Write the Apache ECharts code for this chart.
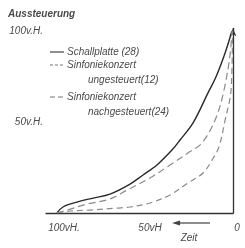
<!DOCTYPE html>
<html><head><meta charset="utf-8">
<script src="https://cdn.jsdelivr.net/npm/echarts@6/dist/echarts.min.js"></script>
<style>html,body{margin:0;padding:0;background:#fff}#c{width:245px;height:248px}</style>
</head><body><div id="c"></div>
<script>
// Data (x = Zeit in vH, 100 left -> 0 right; y = Aussteuerung in vH)
const seriesNames = ['Schallplatte (28)', 'Sinfoniekonzert\nungesteuert(12)', 'Sinfoniekonzert\nnachgesteuert(24)'];
const schallTime  = [100, 96.6, 88.6, 79.5, 69.9, 58.5, 51.1, 43.2, 34.7, 30.1, 22.7, 14.2, 9.7, 4.5, 0.6];
const schallLevel = [0, 3.3, 6.0, 8.2, 10.4, 15.9, 20.9, 26.4, 34.6, 40.1, 49.5, 66, 74.7, 87.9, 100];
const ungesTime   = [100, 92.6, 81.3, 65.9, 58.5, 47.2, 35.8, 25.6, 17, 11.9, 8, 4.5, 1.1, 0.3];
const ungesLevel  = [0, 1.1, 1.6, 2.7, 3.3, 5.5, 9.9, 16.5, 22, 29.1, 36.3, 51, 67.6, 100];
const nachTime    = [100, 94.3, 83, 69.9, 60.2, 47.2, 35.8, 25.6, 17.6, 9.7, 5.1, 1.7, 0.6];
const nachLevel   = [0, 1.6, 4.9, 7.7, 12.6, 19.2, 26.4, 33, 38.5, 52.2, 67.6, 86.8, 100];
const xTickValues = [100, 50, 0];
const xTickLabels = ['100vH.', '50vH', '0'];
const yTickValues = [100, 50];
const yTickLabels = ['100v.H.', '50v.H.'];
const yAxisTitle = 'Aussteuerung';
const xAxisTitle = 'Zeit';

const zip = (a, b) => a.map((v, i) => [v, b[i]]);
const FONT = 'Liberation Sans';
const TXT = '#4a4a4a';
const lineDefs = [
  {color: '#2a2a2a', width: 1.4, type: 'solid', legendDash: null},
  {color: '#8a8a8a', width: 1.2, type: [6, 4], legendDash: [3, 2]},
  {color: '#8a8a8a', width: 1.2, type: [7, 4], legendDash: [5, 3]}
];
const dataSets = [zip(schallTime, schallLevel), zip(ungesTime, ungesLevel), zip(nachTime, nachLevel)];

const chart = echarts.init(document.getElementById('c'));
const xPad = {0: 14, 1: 10, 2: 8};

// legend graphic
const legendRows = [52, 65, 97];
const legendGraphics = [];
seriesNames.forEach((n, i) => {
  const y = legendRows[i];
  const lines = n.split('\n');
  legendGraphics.push({type: 'line', shape: {x1: 50, y1: y, x2: 64, y2: y},
    style: {stroke: lineDefs[i].color === '#2a2a2a' ? '#333' : '#777', lineWidth: 1.1, lineDash: lineDefs[i].legendDash}});
  lines.forEach((t, j) => {
    legendGraphics.push({type: 'text', x: j === 0 ? 67 : 88, y: y + j * 15,
      style: {text: t, font: 'italic 10px "' + FONT + '"', fill: TXT, verticalAlign: 'middle'}});
  });
});

chart.setOption({
  animation: false,
  grid: {left: 46, right: 12, top: 28.3, bottom: 35},
  xAxis: {
    type: 'value', inverse: true, min: 0, max: 106.25,
    splitLine: {show: false}, axisTick: {show: false},
    axisLine: {show: true, lineStyle: {color: '#333', width: 1.3}},
    axisLabel: {
      customValues: xTickValues, margin: 10,
      formatter: (v) => { const i = xTickValues.indexOf(v); return '{a' + i + '|' + xTickLabels[i] + '}'; },
      rich: {
        a0: {padding: [0, 0, 0, xPad[0]], fontStyle: 'italic', fontSize: 10, color: TXT, fontFamily: FONT},
        a1: {padding: [0, 0, 0, xPad[1]], fontStyle: 'italic', fontSize: 10, color: TXT, fontFamily: FONT},
        a2: {padding: [0, 0, 0, xPad[2]], fontStyle: 'italic', fontSize: 10, color: TXT, fontFamily: FONT}
      }
    }
  },
  yAxis: {
    type: 'value', min: 0, max: 101.5,
    splitLine: {show: false}, axisTick: {show: false},
    axisLine: {show: true, lineStyle: {color: '#333', width: 1.3}, symbol: ['none', 'arrow'], symbolSize: [5, 8]},
    axisLabel: {
      customValues: yTickValues, margin: 3,
      formatter: (v) => yTickLabels[yTickValues.indexOf(v)],
      fontStyle: 'italic', fontSize: 10, color: TXT, fontFamily: FONT
    }
  },
  series: dataSets.map((d, i) => ({
    type: 'line', name: seriesNames[i], data: d, smooth: 0.35, showSymbol: false,
    lineStyle: {color: lineDefs[i].color, width: lineDefs[i].width, type: lineDefs[i].type}
  })),
  graphic: [
    {type: 'text', x: 8, y: 14, style: {text: yAxisTitle, font: 'italic bold 10px "' + FONT + '"', fill: TXT, verticalAlign: 'middle'}},
    {type: 'line', shape: {x1: 178, y1: 223, x2: 210, y2: 223}, style: {stroke: '#444', lineWidth: 1.2}},
    {type: 'polygon', shape: {points: [[172, 223], [180, 220.5], [180, 225.5]]}, style: {fill: '#444'}},
    {type: 'text', x: 189, y: 238, style: {text: xAxisTitle, font: 'italic 10px "' + FONT + '"', fill: TXT, align: 'center', verticalAlign: 'middle'}}
  ].concat(legendGraphics)
});
</script></body></html>
